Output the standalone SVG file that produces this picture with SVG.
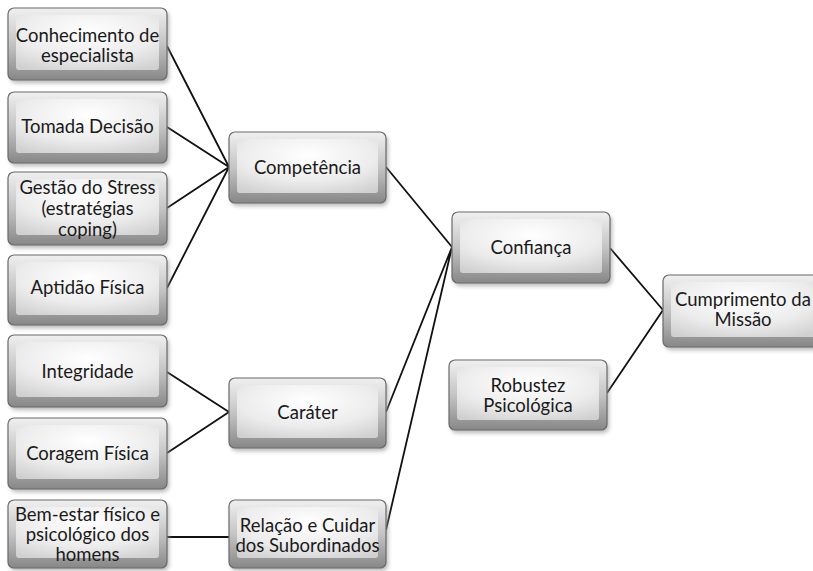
<svg xmlns="http://www.w3.org/2000/svg" width="813" height="571" viewBox="0 0 813 571">
<defs>
<linearGradient id="gOuter" x1="0" y1="0" x2="0" y2="1">
<stop offset="0" stop-color="#f0f0f0"/>
<stop offset="0.5" stop-color="#c4c4c4"/>
<stop offset="1" stop-color="#878787"/>
</linearGradient>
<radialGradient id="gInner" cx="0.5" cy="0.3" r="0.8">
<stop offset="0" stop-color="#ffffff"/>
<stop offset="0.6" stop-color="#ececec"/>
<stop offset="1" stop-color="#d0d0d0"/>
</radialGradient>
<filter id="sh" x="-10%" y="-10%" width="130%" height="140%">
<feGaussianBlur stdDeviation="2"/>
</filter>
<style>
.sh{fill:#9a9a9a;filter:url(#sh);opacity:0.7}
.o{fill:url(#gOuter);stroke:#6a6a6a;stroke-width:1.2}
.i{fill:url(#gInner)}
.t{font-family:Lato,"Open Sans","Liberation Sans",sans-serif;font-size:18.5px;fill:#1a1a1a;text-anchor:middle}
.c{stroke:#111;stroke-width:1.8;fill:none}
</style>
</defs>
<rect width="813" height="571" fill="#ffffff"/>
<g id="connectors">
<path class="c" d="M167 46L229 167M167 127L229 167M167 208L229 167M167 288L229 167"/>
<path class="c" d="M167 372L229 412M167 453L229 412"/>
<path class="c" d="M167 537L229 537"/>
<path class="c" d="M386 167L452 247M386 412L452 247M386 530L452 247"/>
<path class="c" d="M610 248L663 310M607 393L663 310"/>
</g>
<g id="n1"><rect class="sh" x="10" y="11" width="159" height="72" rx="6"/><rect class="o" x="8" y="8" width="159" height="72" rx="6"/><rect class="i" x="16" y="15" width="143" height="55" rx="3"/>
<text class="t" x="87.5" y="42">Conhecimento de</text><text class="t" x="87.5" y="62">especialista</text></g>
<g id="n2"><rect class="sh" x="10" y="95" width="159" height="71" rx="6"/><rect class="o" x="8" y="92" width="159" height="71" rx="6"/><rect class="i" x="16" y="99" width="143" height="54" rx="3"/>
<text class="t" x="87.5" y="133">Tomada Decisão</text></g>
<g id="n3"><rect class="sh" x="10" y="175" width="159" height="73" rx="6"/><rect class="o" x="8" y="172" width="159" height="73" rx="6"/><rect class="i" x="16" y="179" width="143" height="56" rx="3"/>
<text class="t" x="87.5" y="194">Gestão do Stress</text><text class="t" x="87.5" y="215">(estratégias</text><text class="t" x="87.5" y="236">coping)</text></g>
<g id="n4"><rect class="sh" x="10" y="258" width="159" height="70" rx="6"/><rect class="o" x="8" y="255" width="159" height="70" rx="6"/><rect class="i" x="16" y="262" width="143" height="53" rx="3"/>
<text class="t" x="87.5" y="294">Aptidão Física</text></g>
<g id="n5"><rect class="sh" x="10" y="338" width="159" height="72" rx="6"/><rect class="o" x="8" y="335" width="159" height="72" rx="6"/><rect class="i" x="16" y="342" width="143" height="55" rx="3"/>
<text class="t" x="87.5" y="378">Integridade</text></g>
<g id="n6"><rect class="sh" x="10" y="421" width="159" height="71" rx="6"/><rect class="o" x="8" y="418" width="159" height="71" rx="6"/><rect class="i" x="16" y="425" width="143" height="54" rx="3"/>
<text class="t" x="87.5" y="460">Coragem Física</text></g>
<g id="n7"><rect class="sh" x="10" y="503" width="159" height="68" rx="6"/><rect class="o" x="8" y="500" width="159" height="68" rx="6"/><rect class="i" x="16" y="507" width="143" height="51" rx="3"/>
<text class="t" x="87.5" y="521">Bem-estar  físico e</text><text class="t" x="87.5" y="541">psicológico dos</text><text class="t" x="87.5" y="561">homens</text></g>
<g id="competencia"><rect class="sh" x="231" y="135" width="157" height="71" rx="6"/><rect class="o" x="229" y="132" width="157" height="71" rx="6"/><rect class="i" x="237" y="139" width="141" height="54" rx="3"/>
<text class="t" x="307.5" y="174">Competência</text></g>
<g id="carater"><rect class="sh" x="231" y="381" width="157" height="70" rx="6"/><rect class="o" x="229" y="378" width="157" height="70" rx="6"/><rect class="i" x="237" y="385" width="141" height="53" rx="3"/>
<text class="t" x="307.5" y="419">Caráter</text></g>
<g id="relacao"><rect class="sh" x="231" y="503" width="157" height="68" rx="6"/><rect class="o" x="229" y="500" width="157" height="68" rx="6"/><rect class="i" x="237" y="507" width="141" height="51" rx="3"/>
<text class="t" x="307.5" y="532">Relação e Cuidar</text><text class="t" x="307.5" y="552">dos Subordinados</text></g>
<g id="confianca"><rect class="sh" x="454" y="215" width="158" height="71" rx="6"/><rect class="o" x="452" y="212" width="158" height="71" rx="6"/><rect class="i" x="460" y="219" width="142" height="54" rx="3"/>
<text class="t" x="531" y="254">Confiança</text></g>
<g id="robustez"><rect class="sh" x="451" y="363" width="158" height="70" rx="6"/><rect class="o" x="449" y="360" width="158" height="70" rx="6"/><rect class="i" x="457" y="367" width="142" height="53" rx="3"/>
<text class="t" x="528" y="392">Robustez</text><text class="t" x="528" y="412">Psicológica</text></g>
<g id="cumprimento"><rect class="sh" x="665" y="278" width="160" height="72" rx="6"/><rect class="o" x="663" y="275" width="160" height="72" rx="6"/><rect class="i" x="671" y="282" width="144" height="55" rx="3"/>
<text class="t" x="743" y="306">Cumprimento da</text><text class="t" x="743" y="326">Missão</text></g>
</svg>
